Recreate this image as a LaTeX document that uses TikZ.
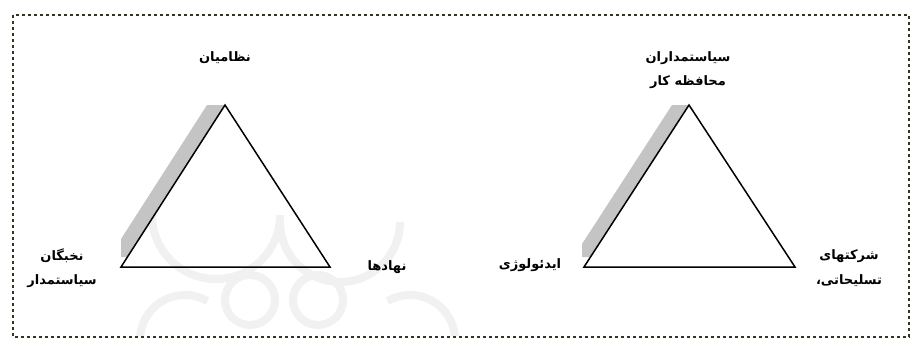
\documentclass[tikz,border=0pt]{standalone}
\usepackage{fontspec}
\newfontfamily\arabicfont[Script=Arabic]{DejaVu Sans}
\TeXXeTstate=1
\newcommand{\fa}[1]{\beginR #1\endR}
\definecolor{dotcol}{HTML}{2E3820}
\definecolor{shadecol}{HTML}{C4C4C4}
\definecolor{markcol}{HTML}{F1F1F1}
\tikzset{
  lbl/.style={font=\arabicfont\bfseries\fontsize{13}{24.5}\selectfont, align=center, inner sep=0pt},
  tri/.style={line width=1.5pt, line join=miter},
  frame/.style={dotcol, line width=2.9pt, dash pattern=on 2.9pt off 3.1pt},
  wmark/.style={markcol, line width=8pt}
}
\begin{document}
\begin{tikzpicture}[x=1pt,y=-1pt]
\useasboundingbox (0,0) rectangle (911,340);

% faint background ornament
\begin{scope}
\clip (15,17) rectangle (907,335);
\draw[wmark] (152,215) arc[start angle=180, end angle=0, radius=64];
\draw[wmark] (280,222) arc[start angle=180, end angle=0, radius=60];
\draw[wmark] (250,300) circle (25);
\draw[wmark] (318,300) circle (25);
\draw[wmark] (140,340) arc[start angle=180, end angle=300, radius=45];
\draw[wmark] (455,340) arc[start angle=0, end angle=-120, radius=45];
\end{scope}

\draw[frame] (13,15) rectangle (909,337);

% left triangle
\coordinate (nzTop) at (225,105);
\coordinate (nzLeft) at (121,267);
\coordinate (nzRight) at (330,267);
\fill[shadecol] (207,105) -- (nzTop) -- (127.4,257) -- (121,257) -- (121,239) -- cycle;
\draw[tri] (nzTop) -- (nzLeft) -- (nzRight) -- cycle;

% right triangle
\coordinate (idTop) at (689,105);
\coordinate (idLeft) at (584,267);
\coordinate (idRight) at (795,267);
\fill[shadecol] (672,105) -- (idTop) -- (590.5,257) -- (582,257) -- (582,244) -- cycle;
\draw[tri] (idTop) -- (idLeft) -- (idRight) -- cycle;

% labels
\node[lbl] (nezamian) at (225,58) {\arabicfont\fa{نظامیان}};
\node[lbl] (nokhbegan) at (62,268) {\arabicfont\fa{نخبگان}\\\fa{سیاستمدار}};
\node[lbl] (nahadha) at (387,267) {\arabicfont\fa{نهادها}};
\node[lbl] (siasat) at (688,70) {\arabicfont\fa{سیاستمداران}\\\fa{محافظه کار}};
\node[lbl] (ideology) at (530,265) {\arabicfont\fa{ایدئولوژی}};
\node[lbl] (sherkat) at (849,268) {\arabicfont\fa{شرکتهای}\\\fa{تسلیحاتی،}};
\end{tikzpicture}
\end{document}
